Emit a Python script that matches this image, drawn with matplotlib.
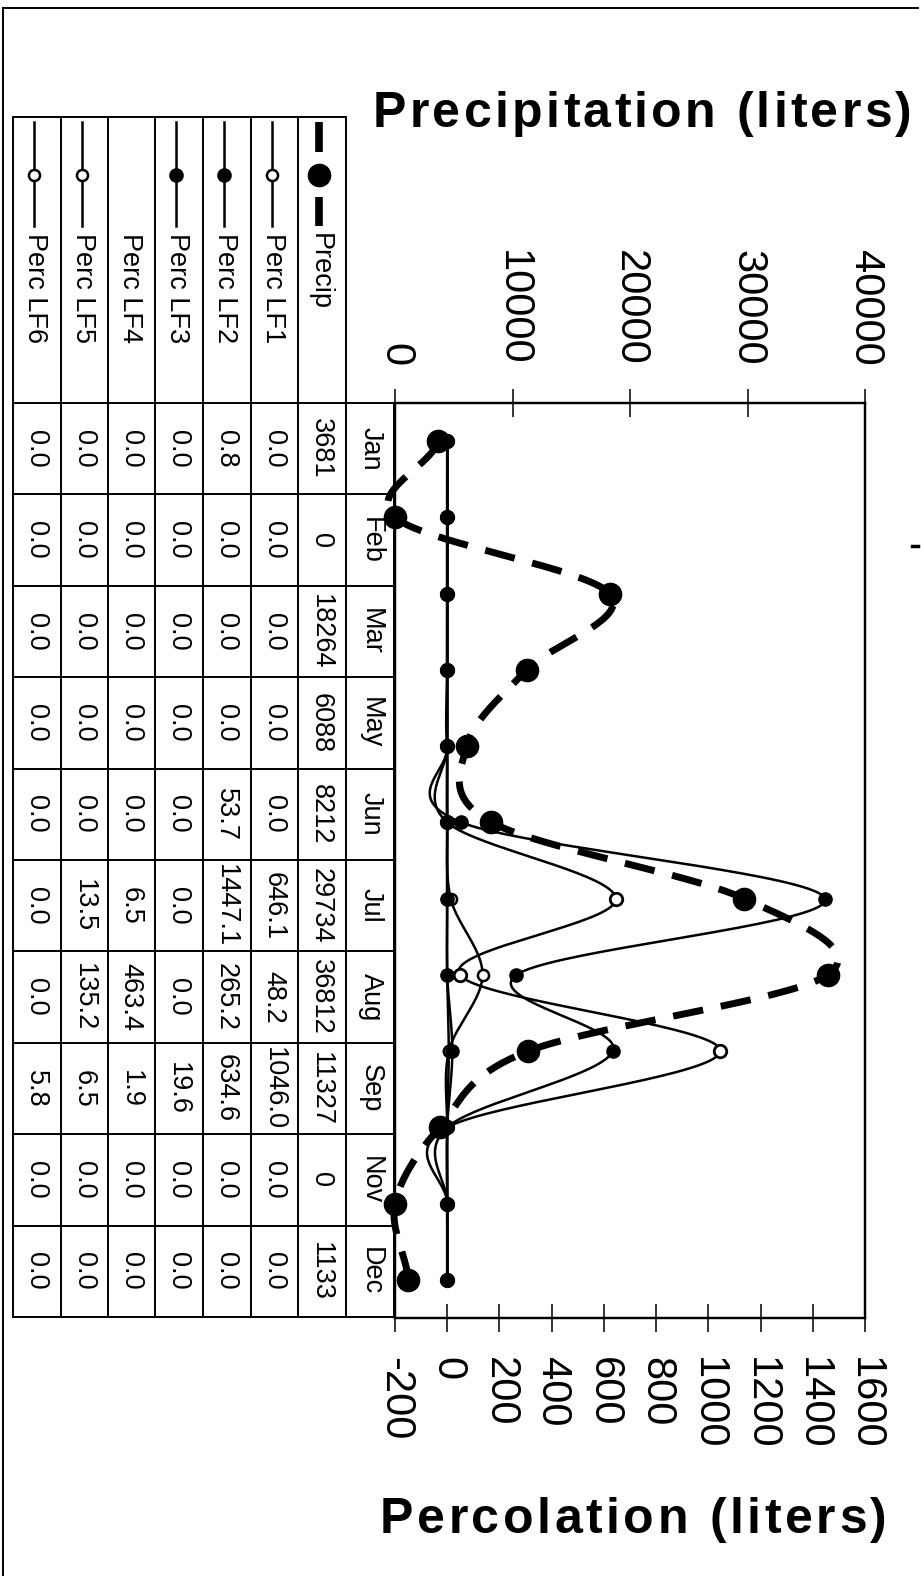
import numpy as np
import matplotlib
matplotlib.use("Agg")
import matplotlib.pyplot as plt
from matplotlib.font_manager import FontProperties, findfont
from matplotlib.ft2font import FT2Font

# ---------------- data ----------------
months = ['Jan', 'Feb', 'Mar', 'Apr', 'May', 'Jun', 'Jul', 'Aug', 'Sep', 'Oct', 'Nov', 'Dec']
precip = [3681, 0, 18264, 11200, 6088, 8212, 29734, 36812, 11327, 3800, 0, 1133]
perc_lf1 = [0.0, 0.0, 0.0, 0.0, 0.0, 0.0, 646.1, 48.2, 1046.0, 0.0, 0.0, 0.0]
perc_lf2 = [0.8, 0.0, 0.0, 0.0, 0.0, 53.7, 1447.1, 265.2, 634.6, 0.0, 0.0, 0.0]
perc_lf3 = [0.0, 0.0, 0.0, 0.0, 0.0, 0.0, 0.0, 0.0, 19.6, 0.0, 0.0, 0.0]
perc_lf4 = [0.0, 0.0, 0.0, 0.0, 0.0, 0.0, 6.5, 463.4, 1.9, 0.0, 0.0, 0.0]
perc_lf5 = [0.0, 0.0, 0.0, 0.0, 0.0, 0.0, 13.5, 135.2, 6.5, 0.0, 0.0, 0.0]
perc_lf6 = [0.0, 0.0, 0.0, 0.0, 0.0, 0.0, 0.0, 0.0, 5.8, 0.0, 0.0, 0.0]
table_months = ['Jan', 'Feb', 'Mar', 'May', 'Jun', 'Jul', 'Aug', 'Sep', 'Nov', 'Dec']
series_names = ['Precip', 'Perc LF1', 'Perc LF2', 'Perc LF3', 'Perc LF4', 'Perc LF5', 'Perc LF6']
precip_ticks = [0, 10000, 20000, 30000, 40000]
perc_ticks = [-200, 0, 200, 400, 600, 800, 1000, 1200, 1400, 1600]
precip_title = 'Precipitation (liters)'
perc_title = 'Percolation (liters)'

plt.rcParams['font.family'] = ['Liberation Sans', 'DejaVu Sans']
plt.rcParams['lines.scale_dashes'] = False

W, H = 921, 1576
fig = plt.figure(figsize=(W / 100, H / 100), dpi=100)

# background overlay in pixel coordinates
bg = fig.add_axes([0, 0, 1, 1], zorder=0)
bg.set_xlim(0, W)
bg.set_ylim(H, 0)
bg.axis('off')

# ---------------- main chart ----------------
px_l, px_r, px_t, px_b = 395, 865, 403, 1318
ax = fig.add_axes([px_l / W, 1 - px_b / H, (px_r - px_l) / W, (px_b - px_t) / H], zorder=2)
ax.set_xlim(-200, 1600)
ax.set_ylim(len(months) - 0.5, -0.5)
ax.set_yticks([])
ax.set_xticks(perc_ticks)
ax.set_xticklabels([str(v) for v in perc_ticks])
ax.tick_params(axis='x', direction='inout', length=19.5, width=1.1, pad=18,
               labelsize=30, labelrotation=270)
for s in ax.spines.values():
    s.set_linewidth(1.6)

axp = ax.twiny()
axp.set_xlim(0, 40000)
axp.set_xticks(precip_ticks)
axp.set_xticklabels([str(v) for v in precip_ticks])
axp.tick_params(axis='x', direction='inout', length=19.5, width=1.1, pad=17,
                labelsize=30, labelrotation=270)
axp.set_yticks([])
for s in axp.spines.values():
    s.set_linewidth(1.6)


def smooth_curve(vals, n=40):
    p = np.asarray(vals, float)
    ext = np.concatenate(([p[0]], p, [p[-1]]))
    ts, vs = [], []
    t = np.linspace(0, 1, n)
    h00 = 2 * t**3 - 3 * t**2 + 1
    h10 = t**3 - 2 * t**2 + t
    h01 = -2 * t**3 + 3 * t**2
    h11 = t**3 - t**2
    for i in range(len(p) - 1):
        p0, p1, p2, p3 = ext[i], ext[i + 1], ext[i + 2], ext[i + 3]
        m1 = (p2 - p0) / 2
        m2 = (p3 - p1) / 2
        ts.append(i + t)
        vs.append(h00 * p1 + h10 * m1 + h01 * p2 + h11 * m2)
    return np.concatenate(ts), np.concatenate(vs)


pos = np.arange(len(months))

# percolation series (LF4 is not drawn in the chart)
perc_styles = [
    (perc_lf6, dict(mfc='white', ms=8, mew=1.8)),
    (perc_lf5, dict(mfc='white', ms=8, mew=1.8)),
    (perc_lf1, dict(mfc='white', ms=9, mew=2.0)),
    (perc_lf2, dict(mfc='black', ms=9.5, mew=1.0)),
    (perc_lf3, dict(mfc='black', ms=9.5, mew=1.0)),
]
for vals, st in perc_styles:
    tt, vv = smooth_curve(vals)
    ax.plot(vv, tt, color='black', lw=1.8, zorder=3)
    ax.plot(vals, pos, linestyle='none', marker='o', mec='black', zorder=4, **st)

# precipitation series
tt, vv = smooth_curve(precip)
axp.plot(vv, tt, color='black', lw=5, linestyle=(0, (22, 13)), dash_capstyle='butt',
         zorder=5, clip_on=False)
axp.plot(precip, pos, linestyle='none', marker='o', ms=16, mfc='black', mec='black',
         zorder=6, clip_on=False)

# ---------------- table (drawn in pixel space) ----------------
col_edges = [13, 61, 108, 155, 203, 251, 298, 346, 394]
header_top = 117
row_top, row_bot = 403, 1317
nrow = len(table_months)
row_edges = np.linspace(row_top, row_bot, nrow + 1)
lw_t = 1.4

for x in col_edges[:-1]:
    bg.plot([x, x], [header_top, row_bot], color='black', lw=lw_t)
bg.plot([col_edges[-1], col_edges[-1]], [row_top, row_bot], color='black', lw=lw_t)
bg.plot([col_edges[0], col_edges[-2]], [header_top, header_top], color='black', lw=lw_t)
for y in row_edges:
    bg.plot([col_edges[0], col_edges[-1]], [y, y], color='black', lw=lw_t)

# column assignment: LF6, LF5, LF4, LF3, LF2, LF1, Precip, Month
col_series = [
    ('Perc LF6', perc_lf6), ('Perc LF5', perc_lf5), ('Perc LF4', perc_lf4),
    ('Perc LF3', perc_lf3), ('Perc LF2', perc_lf2), ('Perc LF1', perc_lf1),
    ('Precip', precip),
]
legend_style = {
    'Precip': dict(lw=5.5, ms=16, mfc='black', line=True, big=True),
    'Perc LF1': dict(lw=1.8, ms=8, mfc='white', line=True),
    'Perc LF2': dict(lw=1.8, ms=9.5, mfc='black', line=True),
    'Perc LF3': dict(lw=1.8, ms=9.5, mfc='black', line=True),
    'Perc LF4': dict(line=False),
    'Perc LF5': dict(lw=1.8, ms=8, mfc='white', line=True),
    'Perc LF6': dict(lw=1.8, ms=8, mfc='white', line=True),
}
cell_fs = 19.5
for ci, (name, vals) in enumerate(col_series):
    cx = (col_edges[ci] + col_edges[ci + 1]) / 2 - 3
    st = legend_style[name]
    if st['line']:
        if st.get('big'):
            bg.plot([cx, cx], [122, 152], color='black', lw=st['lw'], solid_capstyle='butt')
            bg.plot([cx, cx], [197, 226], color='black', lw=st['lw'], solid_capstyle='butt')
        else:
            bg.plot([cx, cx], [122, 226], color='black', lw=st['lw'])
        bg.plot([cx], [175], marker='o', ms=st['ms'], mfc=st['mfc'], mec='black',
                mew=1.8 if st['mfc'] == 'white' else 1.0)
    bg.text(cx + 1, 233, name, rotation=270, ha='center', va='top', fontsize=cell_fs)
    for ri, m in enumerate(table_months):
        v = vals[months.index(m)]
        txt = f"{v:.0f}" if name == 'Precip' else f"{v:.1f}"
        cy = (row_edges[ri] + row_edges[ri + 1]) / 2
        bg.text(cx + 2, cy, txt, rotation=270, ha='center', va='center', fontsize=cell_fs)

mx = (col_edges[-2] + col_edges[-1]) / 2
for ri, m in enumerate(table_months):
    cy = (row_edges[ri] + row_edges[ri + 1]) / 2
    bg.text(mx + 1, cy, m, rotation=270, ha='center', va='center', fontsize=cell_fs)


# ---------------- titles with letter spacing ----------------
def tracked_text(s, x0, x1, ybase, size_pt):
    prop = FontProperties(family='Liberation Sans', weight='bold', size=size_pt)
    font = FT2Font(findfont(prop))
    font.set_size(size_pt, 100)
    adv = [font.load_char(ord(c)).linearHoriAdvance / 65536.0 for c in s]
    natural = sum(adv)
    extra = (x1 - x0 - natural) / (len(s) - 1)
    x = x0
    for c, a in zip(s, adv):
        if c != ' ':
            bg.text(x, ybase, c, fontproperties=prop, ha='left', va='baseline')
        x += a + extra


tracked_text(precip_title, 373, 912, 127, 36)
tracked_text(perc_title, 380, 887, 1533, 36)

# outer frame pieces and scan mark
bg.plot([3, 3], [8, H], color='black', lw=1.4)
bg.plot([3, 918], [8, 8], color='black', lw=1.4)
bg.plot([912, 918], [546, 546], color='black', lw=2.5)

fig.savefig('out.png', dpi=100)
